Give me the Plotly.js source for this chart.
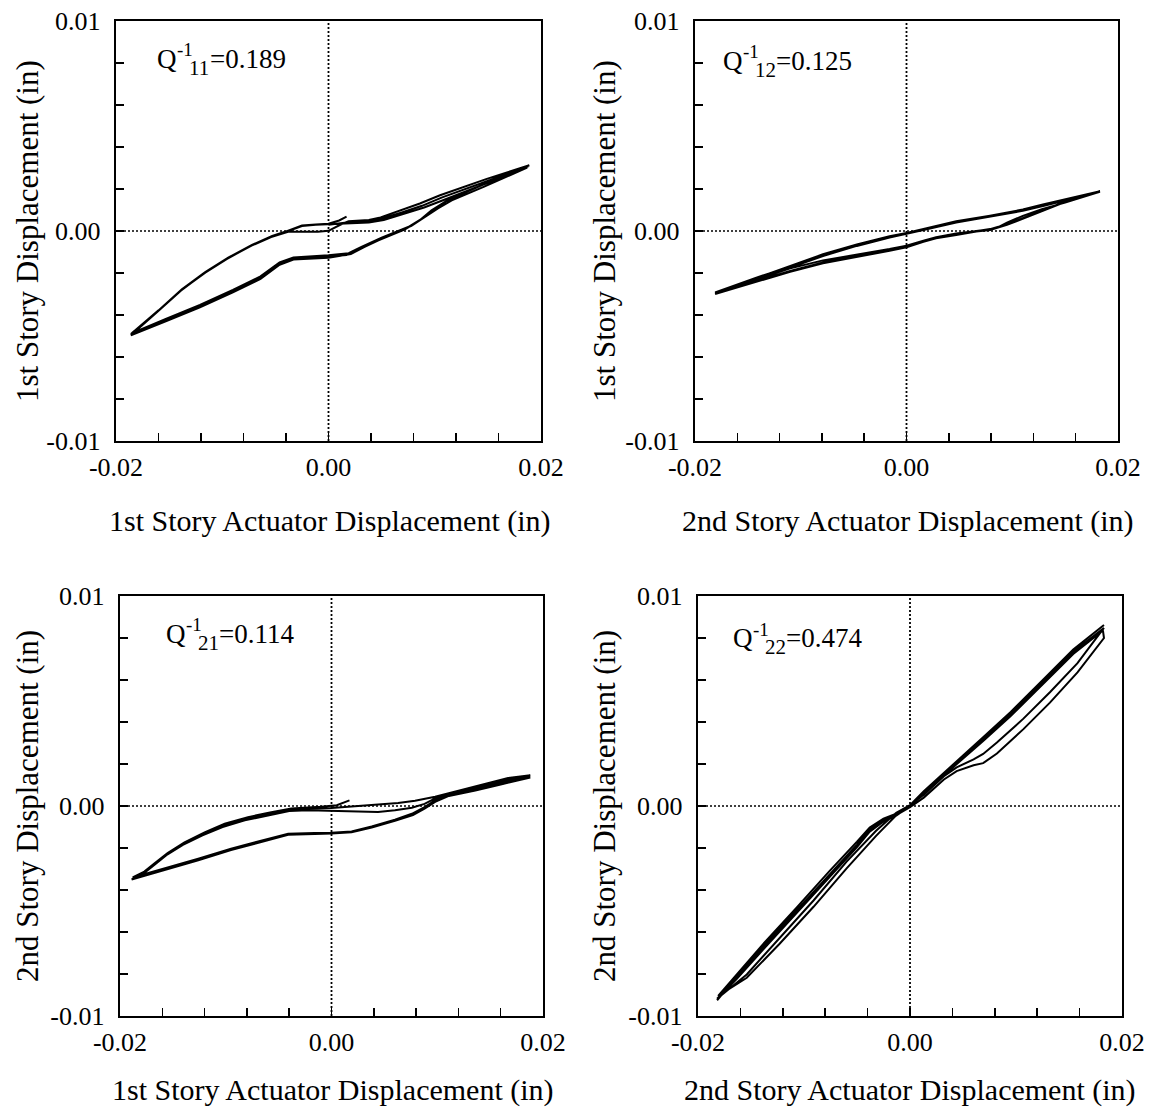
<!DOCTYPE html>
<html>
<head>
<meta charset="utf-8">
<script src="https://cdn.plot.ly/plotly-3.0.1.min.js"></script>
<style>
  html, body { margin: 0; padding: 0; background: #ffffff; }
  #chart { width: 1152px; height: 1116px; }
</style>
</head>
<body>
<div id="chart"></div>
<script>
// Hysteresis loops of story displacement vs. actuator displacement (in).
// Each loop is a traced path of [actuator displacement, story displacement] pairs.

// Q^-1_11 : 1st story displacement vs 1st story actuator displacement
const loop11 = [
  [0.0000, 0.00030],
  [0.0019, 0.00042], [0.0038, 0.00047], [0.0050, 0.00058], [0.0069, 0.00088], [0.0088, 0.00120],
  [0.0107, 0.00160], [0.0129, 0.00200], [0.0151, 0.00240], [0.0169, 0.00272], [0.0188, 0.00308],
  [0.0144, 0.00217], [0.0113, 0.00149], [0.0100, 0.00106], [0.0088, 0.00059], [0.0075, 0.00019],
  [0.0063, -0.00005], [0.0050, -0.00032], [0.0031, -0.00076], [0.0019, -0.00106], [0.0000, -0.00116],
  [-0.0020, -0.00120], [-0.0033, -0.00126], [-0.0046, -0.00150], [-0.0064, -0.00216], [-0.0090, -0.00280],
  [-0.0121, -0.00352], [-0.0152, -0.00416], [-0.0185, -0.00486],
  [-0.0160, -0.00380], [-0.0138, -0.00280], [-0.0116, -0.00198], [-0.0094, -0.00128], [-0.0072, -0.00068],
  [-0.0053, -0.00026], [-0.0038, 0.00000], [-0.0025, 0.00024], [-0.0012, 0.00030], [0.0000, 0.00033],
  [0.0019, 0.00038], [0.0038, 0.00041], [0.0052, 0.00052], [0.0070, 0.00079], [0.0090, 0.00112],
  [0.0109, 0.00149], [0.0130, 0.00190], [0.0152, 0.00231], [0.0170, 0.00266], [0.0187, 0.00302],
  [0.0146, 0.00210], [0.0116, 0.00146], [0.0103, 0.00108], [0.0091, 0.00066], [0.0078, 0.00024],
  [0.0066, -0.00002], [0.0053, -0.00030], [0.0034, -0.00076], [0.0021, -0.00110], [0.0000, -0.00127],
  [-0.0020, -0.00131], [-0.0033, -0.00136], [-0.0046, -0.00161], [-0.0064, -0.00228], [-0.0090, -0.00292],
  [-0.0121, -0.00364], [-0.0152, -0.00428], [-0.0186, -0.00497],
  [-0.0161, -0.00384], [-0.0139, -0.00284], [-0.0117, -0.00201], [-0.0095, -0.00131], [-0.0073, -0.00071],
  [-0.0054, -0.00029], [-0.0038, -0.00004], [-0.0025, -0.00005], [-0.0010, -0.00003], [0.0000, 0.00001],
  [0.0012, 0.00032],
  [0.0019, 0.00046], [0.0038, 0.00052], [0.0049, 0.00065], [0.0067, 0.00098], [0.0086, 0.00131],
  [0.0105, 0.00170], [0.0127, 0.00210], [0.0149, 0.00248], [0.0168, 0.00279], [0.0189, 0.00313],
  [0.0142, 0.00214], [0.0110, 0.00140], [0.0097, 0.00098], [0.0085, 0.00048], [0.0072, 0.00008],
  [0.0060, -0.00016], [0.0047, -0.00044], [0.0028, -0.00088], [0.0017, -0.00114], [0.0000, -0.00121],
  [-0.0020, -0.00125], [-0.0034, -0.00131], [-0.0047, -0.00156], [-0.0065, -0.00222], [-0.0091, -0.00286],
  [-0.0122, -0.00358], [-0.0153, -0.00422], [-0.0186, -0.00490],
  [-0.0160, -0.00378], [-0.0138, -0.00278], [-0.0116, -0.00196], [-0.0094, -0.00126], [-0.0072, -0.00066],
  [-0.0053, -0.00024], [-0.0038, 0.00002], [-0.0025, 0.00026], [-0.0012, 0.00031], [0.0000, 0.00035],
  [0.0010, 0.00050], [0.0017, 0.00068]
];

// Q^-1_12 : 1st story displacement vs 2nd story actuator displacement
const loop12 = [
  [-0.0181, -0.00292], [-0.0142, -0.00222], [-0.0110, -0.00170], [-0.0079, -0.00114], [-0.0047, -0.00067],
  [-0.0016, -0.00027], [0.0000, -0.00011], [0.0016, 0.00008], [0.0047, 0.00044], [0.0079, 0.00071],
  [0.0110, 0.00100], [0.0129, 0.00124], [0.0151, 0.00151], [0.0183, 0.00187],
  [0.0151, 0.00140], [0.0126, 0.00092], [0.0095, 0.00029], [0.0079, 0.00005], [0.0066, -0.00003],
  [0.0047, -0.00019], [0.0028, -0.00035], [0.0016, -0.00051], [0.0000, -0.00078], [-0.0016, -0.00094],
  [-0.0047, -0.00125], [-0.0079, -0.00154], [-0.0110, -0.00194], [-0.0142, -0.00241], [-0.0181, -0.00300],
  [-0.0142, -0.00226], [-0.0110, -0.00174], [-0.0079, -0.00119], [-0.0047, -0.00071], [-0.0016, -0.00031],
  [0.0000, -0.00014], [0.0016, 0.00005], [0.0047, 0.00040], [0.0079, 0.00068], [0.0110, 0.00096],
  [0.0130, 0.00120], [0.0152, 0.00148], [0.0182, 0.00185],
  [0.0150, 0.00135], [0.0128, 0.00104], [0.0110, 0.00072], [0.0095, 0.00040], [0.0085, 0.00014],
  [0.0070, 0.00002], [0.0047, -0.00012], [0.0028, -0.00030], [0.0016, -0.00046], [0.0000, -0.00070],
  [-0.0016, -0.00086], [-0.0047, -0.00112], [-0.0079, -0.00140], [-0.0110, -0.00178], [-0.0142, -0.00230],
  [-0.0181, -0.00296],
  [-0.0142, -0.00224], [-0.0110, -0.00168], [-0.0079, -0.00111], [-0.0047, -0.00064], [-0.0016, -0.00025],
  [0.0000, -0.00009], [0.0016, 0.00010], [0.0047, 0.00046], [0.0079, 0.00073], [0.0110, 0.00102],
  [0.0129, 0.00126], [0.0151, 0.00153], [0.0183, 0.00189],
  [0.0151, 0.00142], [0.0126, 0.00094], [0.0095, 0.00032], [0.0079, 0.00008], [0.0066, 0.00000],
  [0.0047, -0.00016], [0.0028, -0.00032], [0.0016, -0.00048], [0.0000, -0.00075], [-0.0016, -0.00090],
  [-0.0047, -0.00120], [-0.0079, -0.00150], [-0.0110, -0.00190], [-0.0142, -0.00238], [-0.0181, -0.00298]
];

// Q^-1_21 : 2nd story displacement vs 1st story actuator displacement
const loop21 = [
  [0.0017, 0.00027], [0.0005, 0.00004], [-0.0010, -0.00004],
  [-0.0022, -0.00008], [-0.0038, -0.00012], [-0.0057, -0.00030], [-0.0079, -0.00053], [-0.0101, -0.00084],
  [-0.0120, -0.00126], [-0.0139, -0.00173], [-0.0155, -0.00224], [-0.0167, -0.00272], [-0.0177, -0.00312],
  [-0.0188, -0.00340],
  [-0.0158, -0.00298], [-0.0126, -0.00251], [-0.0095, -0.00203], [-0.0063, -0.00160], [-0.0041, -0.00132],
  [-0.0016, -0.00129], [0.0000, -0.00127], [0.0019, -0.00121], [0.0038, -0.00097], [0.0060, -0.00065],
  [0.0076, -0.00037], [0.0088, -0.00005], [0.0098, 0.00027], [0.0110, 0.00056], [0.0136, 0.00083],
  [0.0161, 0.00114], [0.0188, 0.00146],
  [0.0167, 0.00133], [0.0142, 0.00101], [0.0117, 0.00069], [0.0098, 0.00044], [0.0079, 0.00025],
  [0.0063, 0.00014], [0.0041, 0.00006], [0.0016, -0.00004], [0.0000, -0.00010], [-0.0022, -0.00012],
  [-0.0038, -0.00017], [-0.0057, -0.00036], [-0.0079, -0.00060], [-0.0101, -0.00092], [-0.0120, -0.00134],
  [-0.0139, -0.00180], [-0.0155, -0.00230], [-0.0167, -0.00278], [-0.0177, -0.00318], [-0.0188, -0.00345],
  [-0.0158, -0.00302], [-0.0126, -0.00255], [-0.0095, -0.00207], [-0.0063, -0.00163], [-0.0041, -0.00135],
  [-0.0016, -0.00131], [0.0000, -0.00129], [0.0019, -0.00123], [0.0038, -0.00100], [0.0060, -0.00069],
  [0.0077, -0.00040], [0.0089, -0.00008], [0.0099, 0.00024], [0.0111, 0.00052], [0.0136, 0.00078],
  [0.0161, 0.00108], [0.0188, 0.00140],
  [0.0167, 0.00126], [0.0142, 0.00095], [0.0117, 0.00063], [0.0098, 0.00036], [0.0088, 0.00010],
  [0.0076, -0.00008], [0.0060, -0.00020], [0.0044, -0.00028], [0.0016, -0.00025], [0.0000, -0.00022],
  [-0.0022, -0.00020], [-0.0040, -0.00024], [-0.0060, -0.00044], [-0.0082, -0.00068], [-0.0103, -0.00100],
  [-0.0122, -0.00140], [-0.0141, -0.00186], [-0.0157, -0.00236], [-0.0169, -0.00283], [-0.0178, -0.00322],
  [-0.0189, -0.00350],
  [-0.0158, -0.00306], [-0.0126, -0.00258], [-0.0095, -0.00210], [-0.0063, -0.00166], [-0.0041, -0.00137],
  [-0.0016, -0.00133], [0.0000, -0.00131], [0.0019, -0.00125], [0.0038, -0.00102], [0.0060, -0.00071],
  [0.0077, -0.00043], [0.0088, -0.00012], [0.0098, 0.00020], [0.0111, 0.00048], [0.0136, 0.00074],
  [0.0161, 0.00104], [0.0188, 0.00135]
];

// Q^-1_22 : 2nd story displacement vs 2nd story actuator displacement
const loop22 = [
  [0.0183, 0.00862], [0.0154, 0.00745], [0.0126, 0.00604], [0.0095, 0.00448], [0.0069, 0.00328],
  [0.0044, 0.00214], [0.0032, 0.00158], [0.0013, 0.00070], [0.0000, 0.00004], [-0.0013, -0.00036],
  [-0.0025, -0.00060], [-0.0038, -0.00102], [-0.0050, -0.00170], [-0.0076, -0.00310], [-0.0107, -0.00484],
  [-0.0139, -0.00660], [-0.0164, -0.00806], [-0.0181, -0.00904],
  [-0.0154, -0.00818], [-0.0123, -0.00656], [-0.0091, -0.00480], [-0.0060, -0.00298], [-0.0032, -0.00142],
  [-0.0013, -0.00044], [0.0000, -0.00006], [0.0013, 0.00040], [0.0032, 0.00126], [0.0044, 0.00166],
  [0.0060, 0.00194], [0.0069, 0.00204], [0.0082, 0.00250], [0.0107, 0.00366], [0.0132, 0.00492],
  [0.0158, 0.00636], [0.0183, 0.00800],
  [0.0182, 0.00836], [0.0154, 0.00724], [0.0126, 0.00584], [0.0095, 0.00428], [0.0069, 0.00310],
  [0.0044, 0.00200], [0.0032, 0.00148], [0.0013, 0.00062], [0.0000, 0.00000], [-0.0013, -0.00046],
  [-0.0025, -0.00074], [-0.0038, -0.00122], [-0.0050, -0.00196], [-0.0076, -0.00338], [-0.0107, -0.00512],
  [-0.0139, -0.00686], [-0.0164, -0.00826], [-0.0182, -0.00918],
  [-0.0154, -0.00802], [-0.0123, -0.00630], [-0.0091, -0.00450], [-0.0060, -0.00266], [-0.0032, -0.00118],
  [-0.0013, -0.00032], [0.0000, 0.00004], [0.0013, 0.00054], [0.0032, 0.00142], [0.0044, 0.00184],
  [0.0060, 0.00222], [0.0069, 0.00248], [0.0082, 0.00302], [0.0107, 0.00416], [0.0132, 0.00542],
  [0.0158, 0.00680], [0.0183, 0.00848],
  [0.0154, 0.00734], [0.0126, 0.00594], [0.0095, 0.00438], [0.0069, 0.00320], [0.0044, 0.00207],
  [0.0032, 0.00153], [0.0013, 0.00066], [0.0000, 0.00002], [-0.0013, -0.00041], [-0.0025, -0.00067],
  [-0.0038, -0.00112], [-0.0050, -0.00184], [-0.0076, -0.00326], [-0.0107, -0.00500], [-0.0139, -0.00674],
  [-0.0164, -0.00816], [-0.0182, -0.00925]
];

// Axis ticks: labelled ticks plus unlabelled minor ticks
const xTickVals = [-0.02, 0, 0.02];
const xTickText = ['-0.02', '0.00', '0.02'];
const xMinorStep = 0.004;
const yTickVals = [-0.01, 0, 0.01];
const yTickText = ['-0.01', '0.00', '0.01'];
const yMinorStep = 0.002;

// Coefficient labels: Q, superscript -1, subscript ij, value
const coefSymbol = 'Q';
const coefPower = '-1';
const coefIndex = ['11', '12', '21', '22'];
const coefValue = ['0.189', '0.125', '0.114', '0.474'];

const xTitles = [
  '1st Story Actuator Displacement (in)',
  '2nd Story Actuator Displacement (in)',
  '1st Story Actuator Displacement (in)',
  '2nd Story Actuator Displacement (in)'
];
const yTitles = [
  '1st Story Displacement (in)',
  '1st Story Displacement (in)',
  '2nd Story Displacement (in)',
  '2nd Story Displacement (in)'
];

const loops = [loop11, loop12, loop21, loop22];

// ---- layout geometry (pixels on a 1152 x 1116 page) ----
const W = 1152, H = 1116;
const FONT = 'Liberation Serif, Times New Roman, serif';
const boxes = [
  { l: 116, r: 541, t: 21, b: 441 },
  { l: 695, r: 1118, t: 21, b: 441 },
  { l: 120, r: 543, t: 596, b: 1016 },
  { l: 698, r: 1122, t: 596, b: 1016 }
];
const labelPos = [
  { x: -0.0163, y: 0.0082 },
  { x: -0.0175, y: 0.0081 },
  { x: -0.0158, y: 0.0082 },
  { x: -0.0169, y: 0.0080 }
];
const xTitlePos = [{ x: 330, y: 521 }, { x: 908, y: 521 }, { x: 333, y: 1090 }, { x: 910, y: 1090 }];
const yTitlePos = [{ x: 27, y: 231 }, { x: 604, y: 231 }, { x: 27, y: 806 }, { x: 604, y: 806 }];

const traces = [];
const layout = {
  width: W, height: H,
  margin: { l: 0, r: 0, t: 0, b: 0, pad: 0 },
  paper_bgcolor: '#ffffff',
  plot_bgcolor: '#ffffff',
  showlegend: false,
  font: { family: FONT, color: '#000000' },
  shapes: [],
  annotations: []
};

function textNote(xa, ya, x, y, text, size, xshift, yshift) {
  return { xref: xa, yref: ya, x: x, y: y, xanchor: 'left', yanchor: 'middle',
           xshift: xshift, yshift: yshift, text: text, showarrow: false,
           font: { family: FONT, size: size, color: '#000000' } };
}

loops.forEach((loop, i) => {
  const n = i + 1;
  const xa = n === 1 ? 'x' : 'x' + n;
  const ya = n === 1 ? 'y' : 'y' + n;
  const bx = boxes[i];

  traces.push({
    type: 'scatter', mode: 'lines',
    x: loop.map(p => p[0]),
    y: loop.map(p => p[1]),
    xaxis: xa, yaxis: ya,
    line: { color: '#000000', width: 2 },
    hoverinfo: 'skip'
  });

  const common = {
    showline: true, linewidth: 2.4, linecolor: '#000000', mirror: true,
    ticks: 'inside', ticklen: 8, tickwidth: 1.5, tickcolor: '#000000',
    showgrid: false, zeroline: false, fixedrange: true,
    tickfont: { family: FONT, size: 26, color: '#000000' },
    tickmode: 'array'
  };
  layout['xaxis' + (n === 1 ? '' : n)] = Object.assign({}, common, {
    domain: [bx.l / W, bx.r / W],
    anchor: ya,
    range: [-0.02, 0.02],
    tickvals: xTickVals, ticktext: xTickText,
    ticklabelstandoff: 1,
    minor: { tickmode: 'linear', tick0: 0, dtick: xMinorStep, ticks: 'inside', ticklen: 8,
             tickwidth: 1.5, tickcolor: '#000000', showgrid: false }
  });
  layout['yaxis' + (n === 1 ? '' : n)] = Object.assign({}, common, {
    domain: [1 - bx.b / H, 1 - bx.t / H],
    anchor: xa,
    range: [-0.01, 0.01],
    tickvals: yTickVals, ticktext: yTickText,
    ticklabelstandoff: 8,
    minor: { tickmode: 'linear', tick0: 0, dtick: yMinorStep, ticks: 'inside', ticklen: 8,
             tickwidth: 1.5, tickcolor: '#000000', showgrid: false }
  });

  // dotted zero reference lines
  layout.shapes.push(
    { type: 'line', xref: xa, yref: ya, x0: 0, x1: 0, y0: -0.01, y1: 0.01,
      line: { color: '#000000', width: 1.8, dash: '2px,2px' }, layer: 'below' },
    { type: 'line', xref: xa, yref: ya, x0: -0.02, x1: 0.02, y0: 0, y1: 0,
      line: { color: '#000000', width: 1.6, dash: '2px,2px' }, layer: 'below' }
  );

  const lp = labelPos[i];
  layout.annotations.push(
    textNote(xa, ya, lp.x, lp.y, coefSymbol, 27, 0, 0),
    textNote(xa, ya, lp.x, lp.y, coefPower, 19, 20, 9),
    textNote(xa, ya, lp.x, lp.y, coefIndex[i], 21, 32, -9),
    textNote(xa, ya, lp.x, lp.y, '=' + coefValue[i], 27, 53, 0),
    { xref: 'paper', yref: 'paper', x: xTitlePos[i].x / W, y: 1 - xTitlePos[i].y / H,
      xanchor: 'center', yanchor: 'middle', text: xTitles[i], showarrow: false,
      font: { family: FONT, size: 30, color: '#000000' } },
    { xref: 'paper', yref: 'paper', x: yTitlePos[i].x / W, y: 1 - yTitlePos[i].y / H,
      xanchor: 'center', yanchor: 'middle', textangle: -90, text: yTitles[i], showarrow: false,
      font: { family: FONT, size: 31, color: '#000000' } }
  );
});

Plotly.newPlot('chart', traces, layout, { displayModeBar: false, staticPlot: true });
</script>
</body>
</html>
